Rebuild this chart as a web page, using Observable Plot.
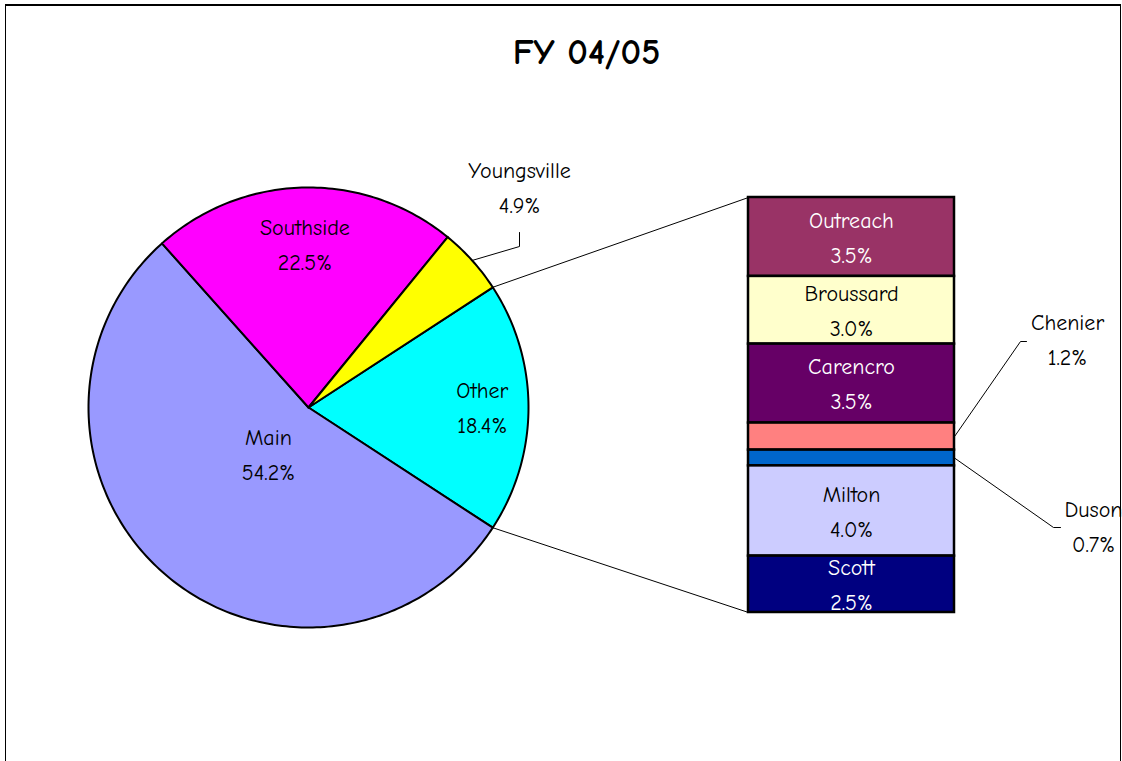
<!DOCTYPE html>
<html><head><meta charset="utf-8">
<script src="https://cdn.jsdelivr.net/npm/d3@7"></script>
<script src="https://cdn.jsdelivr.net/npm/@observablehq/plot@0.6"></script>
<style>
html,body{margin:0;padding:0;background:#fff;overflow:hidden;width:1122px;height:761px}
#frame{position:absolute;left:5px;top:4px;width:1114px;height:800px;border:1px solid #000;border-top:2px solid #000}
#chart{position:absolute;left:0;top:0}
</style></head><body>
<div id="frame"></div><div id="chart"></div>
<script>
// ---- data ----
const title = "FY 04/05";
const pieNames  = ["Other", "Main", "Southside", "Youngsville"];
const pieValues = [18.4, 54.2, 22.5, 4.9];
const pieColors = ["#00FFFF", "#9999FF", "#FF00FF", "#FFFF00"];
const barNames  = ["Outreach", "Broussard", "Carencro", "Chenier", "Duson", "Milton", "Scott"];
const barValues = [3.5, 3.0, 3.5, 1.2, 0.7, 4.0, 2.5];
const barColors = ["#993366", "#FFFFCC", "#660066", "#FF8080", "#0066CC", "#CCCCFF", "#000080"];

// ---- layout ----
const L = {cx: 308, cy: 407, r: 220, barX1: 748, barX2: 954, barY1: 197, barY2: 612, titleX: 586, titleY: 52};
const insideLabelR = {Other: 0.79, Main: 0.28, Southside: 0.74};
const outsideLabels = {
  Youngsville: {lx: 519, ly: 187, elbow: [[519, 246], [519, 232]], from: "pie"},
  Chenier: {lx: 1067, ly: 339, elbow: [[1020, 341], [1026, 341]], from: "bar"},
  Duson: {lx: 1093, ly: 526, elbow: [[1053, 527], [1060, 527]], from: "bar"}
};
const FONT = "'Comic Sans MS', 'Comic Neue', 'DejaVu Sans', sans-serif";
const FS = 22, LH = 35 / 22, DY = -3;
const fmt = v => v.toFixed(1) + "%";
const isDark = c => d3.lab(c).l < 50;

// ---- pie geometry ----
const otherShare = pieValues[0] / d3.sum(pieValues);
const a0 = Math.PI / 2 - otherShare * Math.PI;
const arcs = d3.pie().sort(null).value(d => d).startAngle(a0).endAngle(a0 + 2 * Math.PI)(pieValues);
const pt = (a, rr) => ({x: L.cx + rr * Math.sin(a), y: L.cy - rr * Math.cos(a)});
const slicePts = [];
arcs.forEach((a, i) => {
  const name = pieNames[i];
  const n = Math.max(2, Math.ceil((a.endAngle - a.startAngle) / (2 * Math.PI) * 360));
  slicePts.push({name, x: L.cx, y: L.cy});
  for (let k = 0; k <= n; k++) {
    const p = pt(a.startAngle + (a.endAngle - a.startAngle) * k / n, L.r);
    slicePts.push({name, ...p});
  }
  slicePts.push({name, x: L.cx, y: L.cy});
});

// ---- bar geometry ----
const barTotal = d3.sum(barValues);
const yBar = v => L.barY1 + (L.barY2 - L.barY1) * v / barTotal;
const cum = d3.cumsum(barValues);
const barRows = barNames.map((name, i) => ({
  name, value: barValues[i], color: barColors[i],
  x1: L.barX1, x2: L.barX2, y1: yBar(cum[i] - barValues[i]), y2: yBar(cum[i])
}));

// ---- connectors ----
const otherArc = arcs[0];
const connectors = [
  {id: "top", ...pt(otherArc.startAngle, L.r)}, {id: "top", x: L.barX1, y: L.barY1},
  {id: "bot", ...pt(otherArc.endAngle, L.r)}, {id: "bot", x: L.barX1, y: L.barY2}
];

// ---- labels ----
const labels = [];
arcs.forEach((a, i) => {
  const name = pieNames[i];
  if (insideLabelR[name] != null) {
    const p = pt((a.startAngle + a.endAngle) / 2, L.r * insideLabelR[name]);
    labels.push({text: name + "\n" + fmt(pieValues[i]), x: p.x, y: p.y, color: pieColors[i]});
  }
});
barRows.forEach(d => {
  if (!outsideLabels[d.name]) labels.push({text: d.name + "\n" + fmt(d.value), x: (d.x1 + d.x2) / 2, y: (d.y1 + d.y2) / 2, color: d.color});
});
const leaders = [];
Object.entries(outsideLabels).forEach(([name, o]) => {
  let start;
  if (o.from === "pie") {
    const i = pieNames.indexOf(name), a = arcs[i];
    start = pt((a.startAngle + a.endAngle) / 2, L.r);
    labels.push({text: name + "\n" + fmt(pieValues[i]), x: o.lx, y: o.ly, color: "#ffffff"});
  } else {
    const d = barRows.find(b => b.name === name);
    start = {x: d.x2, y: (d.y1 + d.y2) / 2};
    labels.push({text: name + "\n" + fmt(d.value), x: o.lx, y: o.ly, color: "#ffffff"});
  }
  leaders.push({id: name, ...start});
  o.elbow.forEach(([x, y]) => leaders.push({id: name, x, y}));
});

const chart = Plot.plot({
  width: 1122, height: 761, margin: 0,
  x: {type: "identity", axis: null},
  y: {type: "identity", axis: null},
  color: {domain: [...pieNames, ...barNames], range: [...pieColors, ...barColors]},
  style: {fontFamily: FONT, background: "transparent", overflow: "visible"},
  marks: [
    Plot.line(slicePts, {x: "x", y: "y", z: "name", fill: "name", stroke: "black", strokeWidth: 2, strokeLinejoin: "round"}),
    Plot.line(connectors, {x: "x", y: "y", z: "id", stroke: "black", strokeWidth: 1}),
    Plot.line(leaders, {x: "x", y: "y", z: "id", stroke: "black", strokeWidth: 1}),
    Plot.rect(barRows, {x1: "x1", x2: "x2", y1: "y1", y2: "y2", fill: "name", stroke: "black", strokeWidth: 2.5}),
    Plot.text(labels.filter(d => isDark(d.color)), {x: "x", y: "y", text: "text", fill: "white", fontSize: FS, lineHeight: LH, dy: DY}),
    Plot.text(labels.filter(d => !isDark(d.color)), {x: "x", y: "y", text: "text", fill: "black", fontSize: FS, lineHeight: LH, dy: DY}),
    Plot.text([title], {x: () => L.titleX, y: () => L.titleY, text: d => d, fontSize: 36, fontWeight: "bold", fill: "black"})
  ]
});
document.getElementById("chart").appendChild(chart);
</script>
</body></html>
